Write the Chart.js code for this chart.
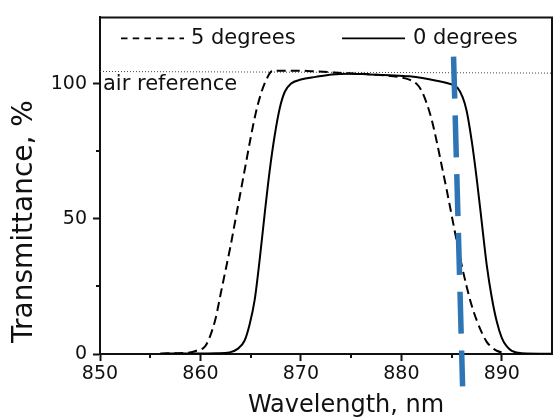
<!DOCTYPE html>
<html>
<head>
<meta charset="utf-8">
<script src="https://cdn.jsdelivr.net/npm/chart.js@4.4.0/dist/chart.umd.min.js"></script>
<style>
  html, body { margin: 0; padding: 0; background: #fff; }
  canvas { display: block; }
</style>
</head>
<body>
<canvas id="c" width="554" height="419"></canvas>
<script>
// Band-pass filter transmittance at normal incidence and at 5 degrees tilt
const wl0 = [856, 858, 860, 861.6, 862.9, 863.7, 864.4, 864.9, 865.4, 865.9,
             866.4, 866.9, 867.4, 867.9, 868.4, 869.0, 870.0, 871.5, 873.1, 874.8,
             876.8, 878.8, 880.8, 882.1, 883.5, 885.0, 885.6, 886.1, 886.5, 887.0,
             887.5, 888.0, 888.5, 889.0, 889.5, 890.0, 890.5, 891.0, 892.0, 895];
const t0  = [0.1, 0.2, 0.2, 0.3, 0.6, 1.9, 5, 11, 20, 35,
             52, 68, 81, 91, 97, 100, 101.5, 102.5, 103.4, 103.7,
             103.4, 103.1, 102.7, 102.1, 101.1, 99.7, 98.4, 95, 90, 79,
             65, 49, 33, 21, 12, 6, 2.8, 1.2, 0.3, 0.1];

const wl5 = [856, 857.5, 858.6, 859.6, 860.5, 861.0, 861.5, 862.0, 862.5, 863.0,
             863.5, 864.0, 864.5, 865.0, 865.5, 866.0, 866.5, 867.2, 869.6, 871.5,
             874.8, 877.0, 879.8, 880.8, 881.5, 882.0, 882.5, 883.0, 883.5, 884.0,
             884.5, 885.0, 885.5, 886.0, 886.5, 887.0, 887.5, 888.0, 888.5, 889.0,
             889.5, 890.4];
const t5  = [0.1, 0.3, 0.4, 1.2, 3, 7, 13, 22, 31, 40,
             50, 60, 70, 80, 89, 96, 101, 104.8, 104.8, 104.5,
             103.8, 103.4, 102.4, 101.5, 100, 97.5, 93, 87, 79, 70,
             61, 51.5, 42, 33, 25, 18, 12.5, 8, 4.5, 2.5,
             1.2, 0.3];

// air reference level and the marker wavelength line
const refWl  = [850, 895];
const refT   = [104.5, 103.9];
const markWl = [885.2, 886.1];
const markT  = [110, -12];

const xTicks = [850, 860, 870, 880, 890];
const xMinor = [855, 865, 875, 885];
const yTicks = [0, 50, 100];
const yMinor = [25, 75];

const txt = {
  zero: '0 degrees',
  five: '5 degrees',
  ref: 'air reference',
  x: 'Wavelength, nm',
  y: 'Transmittance, %'
};

const FONT = "'DejaVu Sans', sans-serif";
const INK = '#111';
const BLUE = '#2e75b6';

const pts = (xs, ys) => xs.map((x, i) => ({ x, y: ys[i] }));

// closes the box on top and right, adds short minor ticks
const framePlugin = {
  id: 'frame',
  beforeDatasetsDraw(chart) {
    const { ctx, chartArea: a, scales } = chart;
    ctx.save();
    ctx.strokeStyle = INK;
    ctx.lineWidth = 2;
    ctx.beginPath();
    ctx.moveTo(a.left - 1, a.top);
    ctx.lineTo(a.right, a.top);
    ctx.lineTo(a.right, a.bottom + 1);
    ctx.stroke();
    ctx.beginPath();
    xMinor.forEach(v => {
      const px = Math.round(scales.x.getPixelForValue(v));
      ctx.moveTo(px, a.bottom);
      ctx.lineTo(px, a.bottom + 4);
    });
    yMinor.forEach(v => {
      const py = Math.round(scales.y.getPixelForValue(v));
      ctx.moveTo(a.left, py);
      ctx.lineTo(a.left - 4, py);
    });
    ctx.stroke();
    ctx.restore();
  }
};

// legend inside the plot, reference-line caption and axis titles
const insetPlugin = {
  id: 'inset',
  afterDatasetsDraw(chart) {
    const { ctx, chartArea: a, scales } = chart;
    const ds = chart.data.datasets;
    ctx.save();
    ctx.font = '21px ' + FONT;
    ctx.fillStyle = INK;
    ctx.textBaseline = 'middle';
    const y = a.top + 21;
    const items = [
      { d: ds[1], x0: a.left + 21, x1: a.left + 84, tx: a.left + 91 },
      { d: ds[0], x0: a.left + 242, x1: a.left + 305, tx: a.left + 313 }
    ];
    items.forEach(it => {
      ctx.strokeStyle = it.d.borderColor;
      ctx.lineWidth = 1.6;
      ctx.setLineDash(it.d.borderDash ? [6.5, 5.2] : []);
      ctx.beginPath();
      ctx.moveTo(it.x0, y);
      ctx.lineTo(it.x1, y);
      ctx.stroke();
      ctx.fillText(it.d.label, it.tx, y);
    });
    ctx.setLineDash([]);
    const ry = scales.y.getPixelForValue(refT[0]);
    ctx.fillText(txt.ref, scales.x.getPixelForValue(refWl[0]) + 3, ry + 13);

    // horizontal axis title
    ctx.font = '24px ' + FONT;
    ctx.textAlign = 'center';
    ctx.fillText(txt.x, a.left + 246, 406);

    // vertical axis title
    ctx.translate(25, scales.y.getPixelForValue(49));
    ctx.rotate(-Math.PI / 2);
    ctx.font = '28px ' + FONT;
    ctx.fillText(txt.y, 0, 0);
    ctx.restore();
  }
};

new Chart(document.getElementById('c'), {
  type: 'line',
  data: {
    datasets: [
      {
        label: txt.zero,
        data: pts(wl0, t0),
        borderColor: '#000',
        borderWidth: 2,
        cubicInterpolationMode: 'monotone',
        pointRadius: 0,
        order: 2
      },
      {
        label: txt.five,
        data: pts(wl5, t5),
        borderColor: '#000',
        borderWidth: 2,
        borderDash: [9, 5],
        cubicInterpolationMode: 'monotone',
        pointRadius: 0,
        order: 3
      },
      {
        label: txt.ref,
        data: pts(refWl, refT),
        borderColor: '#444',
        borderWidth: 1,
        borderDash: [1, 2],
        pointRadius: 0,
        order: 4
      },
      {
        label: 'marker',
        data: pts(markWl, markT),
        borderColor: BLUE,
        borderWidth: 5.5,
        borderDash: [42, 16.8],
        pointRadius: 0,
        clip: false,
        order: 0
      }
    ]
  },
  options: {
    responsive: false,
    devicePixelRatio: 1,
    animation: false,
    events: [],
    layout: { padding: { top: 12, right: 2, left: 0, bottom: 0 } },
    plugins: {
      legend: { display: false },
      tooltip: { enabled: false }
    },
    scales: {
      x: {
        type: 'linear',
        min: 850,
        max: 895,
        afterBuildTicks: s => { s.ticks = xTicks.map(v => ({ value: v })); },
        afterFit: s => { s.height = 65; },
        grid: { drawOnChartArea: false, tickLength: 7, tickWidth: 2, tickColor: INK },
        border: { color: INK, width: 2 },
        ticks: { font: { family: FONT, size: 19 }, color: INK, padding: 2, maxRotation: 0, autoSkip: false },
        title: { display: false }
      },
      y: {
        type: 'linear',
        min: 0,
        max: 124.5,
        afterBuildTicks: s => { s.ticks = yTicks.map(v => ({ value: v })); },
        afterFit: s => { s.width = 100; },
        grid: { drawOnChartArea: false, tickLength: 7, tickWidth: 2, tickColor: INK },
        border: { color: INK, width: 2 },
        ticks: { font: { family: FONT, size: 19 }, color: INK, padding: 6 },
        title: { display: false }
      }
    }
  },
  plugins: [framePlugin, insetPlugin]
});
</script>
</body>
</html>
